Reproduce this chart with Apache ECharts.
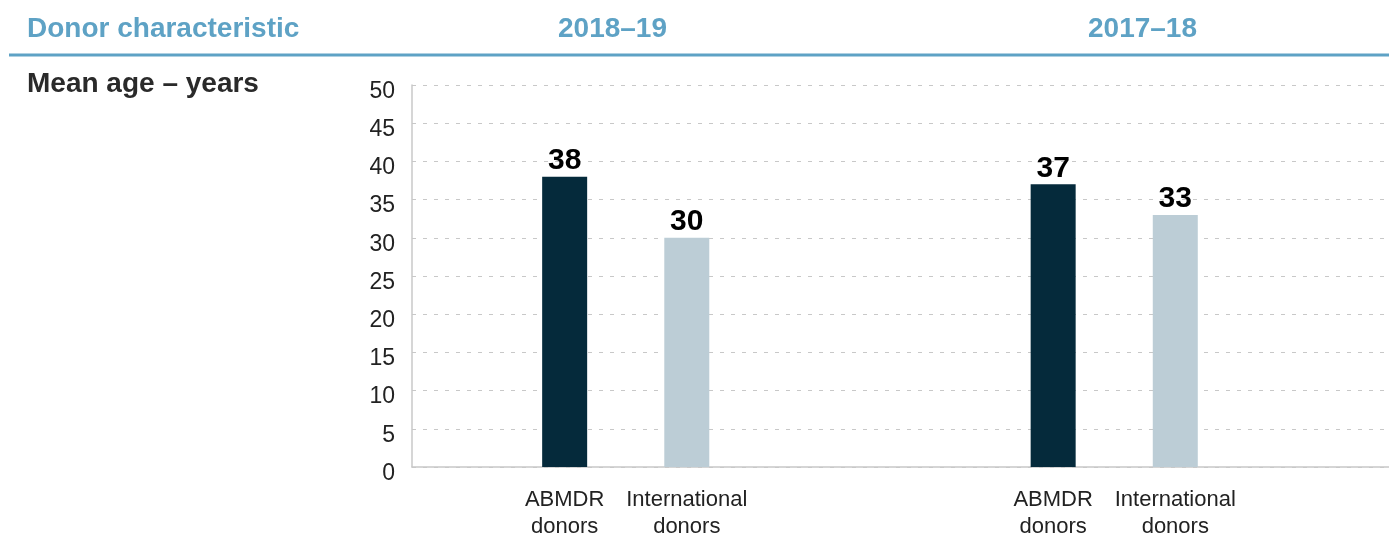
<!DOCTYPE html>
<html>
<head>
<meta charset="utf-8">
<script src="https://cdn.jsdelivr.net/npm/echarts@6/dist/echarts.min.js"></script>
<style>
  html, body { margin: 0; padding: 0; background: #ffffff; }
  #chart { width: 1389px; height: 540px; }
</style>
</head>
<body>
<div id="chart"></div>
<script>
// ---- data ----
const headerLabel = 'Donor characteristic';
const rowLabel = 'Mean age – years';
const periods = ['2018–19', '2017–18'];
const donorGroups = ['ABMDR\ndonors', 'International\ndonors'];
const abmdrMeanAge = [38, 37];          // per period
const internationalMeanAge = [30, 33];  // per period
const yTicks = [0, 5, 10, 15, 20, 25, 30, 35, 40, 45, 50];

// ---- layout helpers (slots on the category axis) ----
const SLOT_COUNT = 16;
function slotOf(periodIdx, groupIdx) { return 2 + 8 * periodIdx + 2 * groupIdx; }

const categories = new Array(SLOT_COUNT).fill('');
periods.forEach((p, pi) => donorGroups.forEach((g, gi) => { categories[slotOf(pi, gi)] = g; }));

function seriesData(values, groupIdx) {
  const arr = new Array(SLOT_COUNT).fill('-');
  values.forEach((v, pi) => { arr[slotOf(pi, groupIdx)] = v; });
  return arr;
}

const BLUE = '#5ea2c5';
const FONT = '"Liberation Sans", Arial, sans-serif';

const chart = echarts.init(document.getElementById('chart'), null, { renderer: 'canvas' });
const periodCenters = [612.5, 1142.5];

chart.setOption({
  animation: false,
  backgroundColor: '#ffffff',
  grid: { left: 412, width: 981, top: 85, height: 389, containLabel: false },
  xAxis: {
    type: 'category',
    data: categories,
    boundaryGap: true,
    axisLine: { show: true, lineStyle: { color: '#c8c8c8', width: 1.5 } },
    axisTick: { show: false },
    axisLabel: {
      interval: 0,
      margin: 19,
      color: '#222222',
      fontFamily: FONT,
      fontSize: 22,
      lineHeight: 27,
      align: 'center'
    },
    splitLine: { show: false }
  },
  yAxis: {
    type: 'value',
    min: yTicks[0],
    max: yTicks[yTicks.length - 1],
    interval: yTicks[1] - yTicks[0],
    axisLine: { show: true, lineStyle: { color: '#c8c8c8', width: 1.5 } },
    axisTick: { show: false },
    axisLabel: { margin: 17, color: '#222222', fontFamily: FONT, fontSize: 23, verticalAlign: 'top', lineHeight: 13 },
    splitLine: { show: true, lineStyle: { color: '#c8c8c8', width: 1, type: [4, 7] } }
  },
  series: [
    {
      name: 'ABMDR donors',
      type: 'bar',
      data: seriesData(abmdrMeanAge, 0),
      barWidth: 45,
      barGap: '-100%',
      itemStyle: { color: '#052a3b' },
      label: { show: true, position: 'top', distance: 1, color: '#000000', fontFamily: FONT, fontWeight: 'bold', fontSize: 30 }
    },
    {
      name: 'International donors',
      type: 'bar',
      data: seriesData(internationalMeanAge, 1),
      barWidth: 45,
      barGap: '-100%',
      itemStyle: { color: '#bccdd6' },
      label: { show: true, position: 'top', distance: 1, color: '#000000', fontFamily: FONT, fontWeight: 'bold', fontSize: 30 }
    }
  ],
  graphic: [
    { type: 'line', shape: { x1: 9, y1: 55, x2: 1389, y2: 55 }, style: { stroke: BLUE, lineWidth: 3 }, silent: true },
    { type: 'text', x: 27, y: 29, style: { text: headerLabel, fill: BLUE, font: 'bold 28px ' + FONT, textAlign: 'left', textVerticalAlign: 'middle' } },
    { type: 'text', x: periodCenters[0], y: 29, style: { text: periods[0], fill: BLUE, font: 'bold 28px ' + FONT, textAlign: 'center', textVerticalAlign: 'middle' } },
    { type: 'text', x: periodCenters[1], y: 29, style: { text: periods[1], fill: BLUE, font: 'bold 28px ' + FONT, textAlign: 'center', textVerticalAlign: 'middle' } },
    { type: 'text', x: 27, y: 84, style: { text: rowLabel, fill: '#2a2a2a', font: 'bold 28px ' + FONT, textAlign: 'left', textVerticalAlign: 'middle' } }
  ]
});
</script>
</body>
</html>
